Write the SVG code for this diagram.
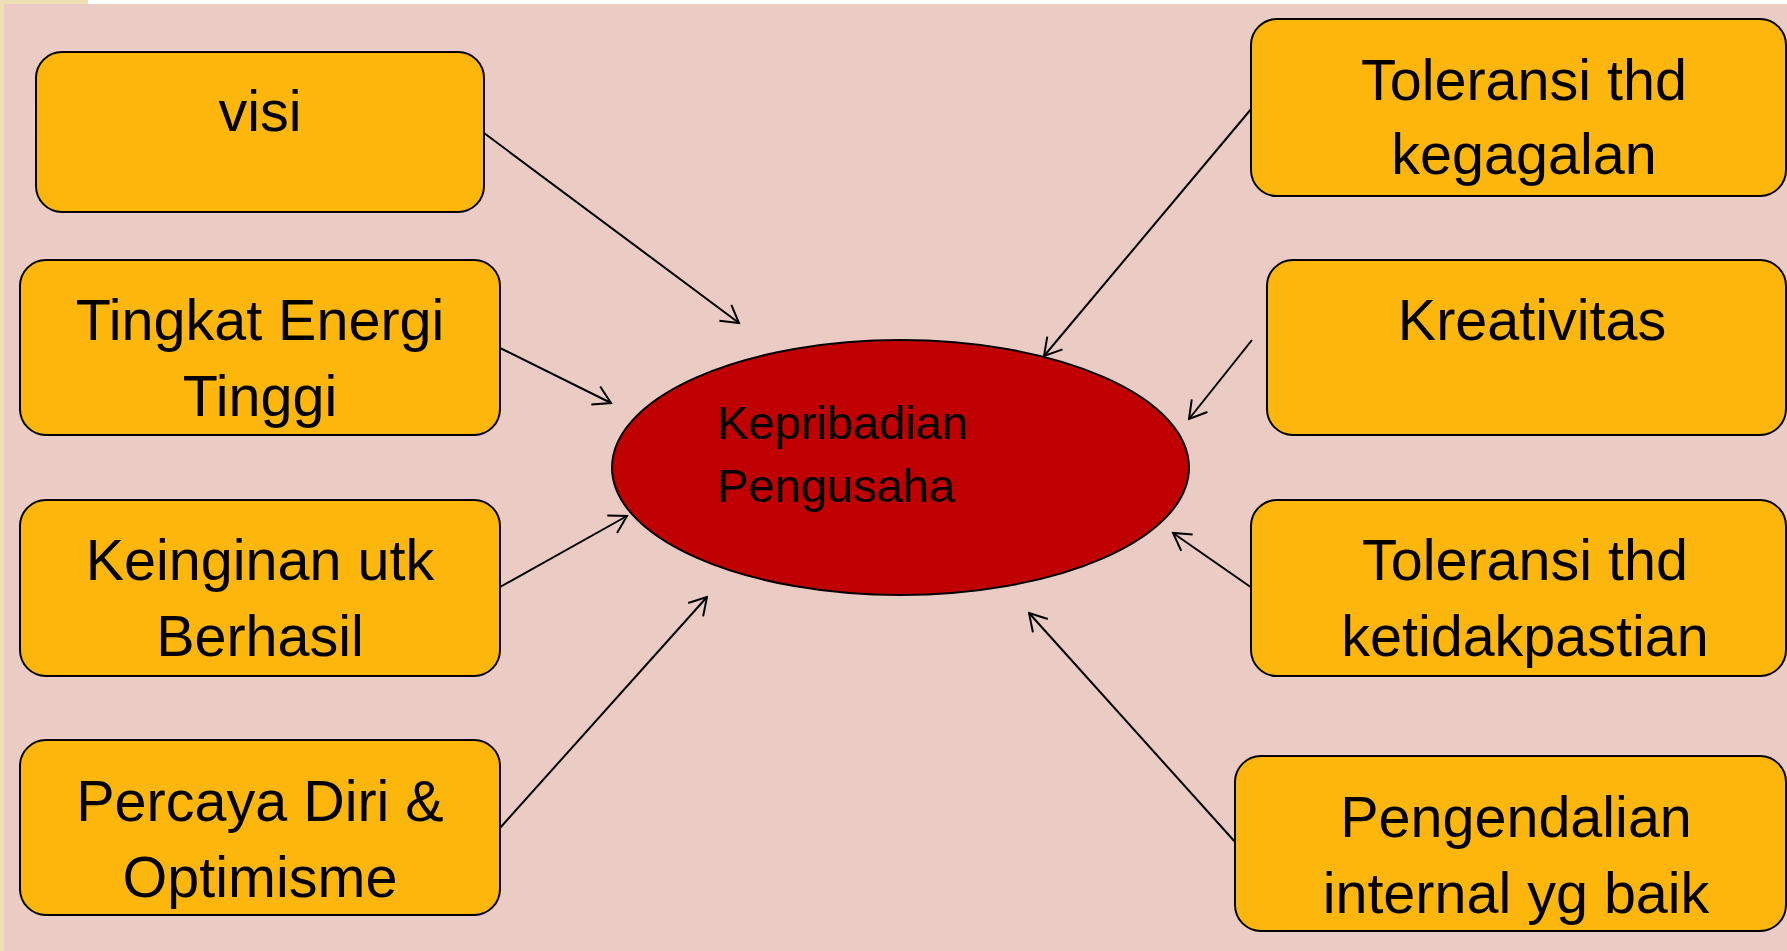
<svg xmlns="http://www.w3.org/2000/svg" width="1787" height="951" viewBox="0 0 1787 951">
<style>
.box{fill:#FDB70C;stroke:#000;stroke-width:2}
.bt{font-family:"Liberation Sans",Arial,sans-serif;font-size:57.5px;fill:#000;text-anchor:middle}
.et{font-family:"Liberation Sans",Arial,sans-serif;font-size:47px;fill:#000}
.con{stroke:#000;stroke-width:2;fill:none;marker-end:url(#arr)}
</style>
<defs>
<marker id="arr" viewBox="0 0 21 22" refX="19" refY="11" markerWidth="21" markerHeight="22" markerUnits="userSpaceOnUse" orient="auto">
<path d="M2,1 L19,11 L2,21" fill="none" stroke="#000" stroke-width="2"/>
</marker>
</defs>
<rect width="1787" height="951" fill="#FFFFFF"/>
<rect x="0" y="0" width="4" height="951" fill="#EEDFB6"/>
<rect x="0" y="0" width="88" height="4" fill="#EEDFB6"/>
<rect x="4" y="4" width="1783" height="947" fill="#EACCC4"/>
<g id="connectors">
<line class="con" x1="484" y1="133" x2="739" y2="323"/>
<line class="con" x1="500" y1="348" x2="611" y2="403"/>
<line class="con" x1="500" y1="587" x2="627" y2="516"/>
<line class="con" x1="500" y1="828" x2="707" y2="597"/>
<line class="con" x1="1252" y1="108" x2="1044" y2="356"/>
<line class="con" x1="1252" y1="340" x2="1189" y2="419"/>
<line class="con" x1="1252" y1="588" x2="1173" y2="533"/>
<line class="con" x1="1236" y1="843" x2="1029" y2="613"/>
</g>
<g id="center">
<ellipse cx="900.5" cy="467.5" rx="288.5" ry="127.5" fill="#C00000" stroke="#000" stroke-width="2"/>
<text class="et" x="717" y="439">Kepribadian</text>
<text class="et" x="717" y="502">Pengusaha</text>
</g>
<g id="visi">
<rect class="box" x="36" y="52" width="448" height="160" rx="26"/>
<text class="bt" x="260" y="131">visi</text>
</g>
<g id="energi">
<rect class="box" x="20" y="260" width="480" height="175" rx="26"/>
<text class="bt" x="260" y="340">Tingkat Energi</text>
<text class="bt" x="260" y="416">Tinggi</text>
</g>
<g id="keinginan">
<rect class="box" x="20" y="500" width="480" height="176" rx="26"/>
<text class="bt" x="260" y="580">Keinginan utk</text>
<text class="bt" x="260" y="656">Berhasil</text>
</g>
<g id="percaya">
<rect class="box" x="20" y="740" width="480" height="175" rx="26"/>
<text class="bt" x="260" y="821">Percaya Diri &amp;</text>
<text class="bt" x="260" y="897">Optimisme</text>
</g>
<g id="kegagalan">
<rect class="box" x="1251" y="19" width="535" height="177" rx="26"/>
<text class="bt" x="1524" y="100">Toleransi thd</text>
<text class="bt" x="1524" y="174">kegagalan</text>
</g>
<g id="kreativitas">
<rect class="box" x="1267" y="260" width="519" height="175" rx="26"/>
<text class="bt" x="1532" y="340">Kreativitas</text>
</g>
<g id="ketidakpastian">
<rect class="box" x="1251" y="500" width="535" height="176" rx="26"/>
<text class="bt" x="1525" y="580">Toleransi thd</text>
<text class="bt" x="1525" y="656">ketidakpastian</text>
</g>
<g id="pengendalian">
<rect class="box" x="1235" y="756" width="551" height="175" rx="26"/>
<text class="bt" x="1516" y="837">Pengendalian</text>
<text class="bt" x="1516" y="913">internal yg baik</text>
</g>
</svg>
